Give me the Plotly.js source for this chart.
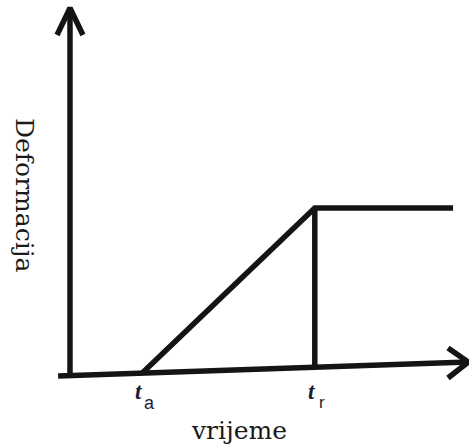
<!DOCTYPE html>
<html>
<head>
<meta charset="utf-8">
<script src="https://cdn.plot.ly/plotly-3.0.1.min.js"></script>
<style>html,body{margin:0;padding:0;background:#fff;}#chart{width:469px;height:448px;}</style>
</head>
<body>
<div id="chart"></div>
<script>
// ---- data ----
const xTitle = 'vrijeme';
const yTitle = 'Deformacija';
const tickNames = ['t', 't'];
const tickSubs = ['a', 'r'];
const tickTimes = [2.0, 6.8];              // t_a, t_r
const curveTime = [2.0, 6.8, 10.64];
const curveDeformation = [0.017, 1.0, 1.0];
const dropTime = [6.8, 6.8];
const dropDeformation = [1.0, 0.052];
const timeAxisT = [-0.33, 11.06];
const timeAxisD = [0.0, 0.083];
const defAxisT = [0.0, 0.0];
const defAxisD = [-0.012, 2.19];

// ---- styling ----
const INK = '#141414';
const LW = 5.5;
const line = {color: INK, width: LW};

function seg(x, y) {
  return {x: x, y: y, type: 'scatter', mode: 'lines', line: line,
          hoverinfo: 'skip', showlegend: false};
}

// chevron arrowheads derived from axis tips
const yTipT = defAxisT[1], yTipD = defAxisD[1];
const xTipT = timeAxisT[1], xTipD = timeAxisD[1];
const yHead = seg([yTipT - 0.36, yTipT, yTipT + 0.36], [yTipD - 0.16, yTipD, yTipD - 0.16]);
const xHead = seg([xTipT - 0.56, xTipT, xTipT - 0.56], [xTipD + 0.084, xTipD, xTipD - 0.095]);

const traces = [
  seg(timeAxisT, timeAxisD),
  seg(defAxisT, defAxisD),
  yHead, xHead,
  seg(curveTime, curveDeformation),
  seg(dropTime, dropDeformation)
];

const labelColor = '#1c1c38';
const annotations = [];
tickTimes.forEach((t, i) => {
  annotations.push({x: t - 0.1, y: -0.09, xref: 'x', yref: 'y', showarrow: false,
    text: '<b><i>' + tickNames[i] + '</i></b>', xanchor: 'center', yanchor: 'middle',
    font: {family: 'Liberation Serif', size: 23, color: labelColor}});
  annotations.push({x: t + (i === 0 ? 0.22 : 0.2), y: -0.16, xref: 'x', yref: 'y', showarrow: false,
    text: tickSubs[i], xanchor: 'center', yanchor: 'middle',
    font: {family: 'Liberation Sans', size: i === 0 ? 18 : 17, color: labelColor}});
});
annotations.push({x: 239, y: 430, xref: 'paper', yref: 'paper', showarrow: false, text: xTitle,
  font: {family: 'DejaVu Serif', size: 25, color: '#1a1a1a'}});
annotations.push({x: 25, y: 195, xref: 'paper', yref: 'paper', showarrow: false, text: yTitle,
  textangle: 90, font: {family: 'DejaVu Serif', size: 25, color: '#1a1a1a'}});

// convert pixel-positioned titles to paper coords
annotations.forEach(a => {
  if (a.xref === 'paper') {
    a.x = a.x / 469; a.y = 1 - a.y / 448;
    a.xanchor = 'center'; a.yanchor = 'middle';
  }
});

const layout = {
  width: 469, height: 448,
  margin: {l: 0, r: 0, t: 0, b: 0},
  paper_bgcolor: '#ffffff', plot_bgcolor: '#ffffff',
  xaxis: {range: [-1.944, 11.083], visible: false, fixedrange: true},
  yaxis: {range: [-0.4286, 2.238], visible: false, fixedrange: true},
  annotations: annotations,
  showlegend: false
};

Plotly.newPlot('chart', traces, layout, {staticPlot: true, displayModeBar: false});
</script>
</body>
</html>
